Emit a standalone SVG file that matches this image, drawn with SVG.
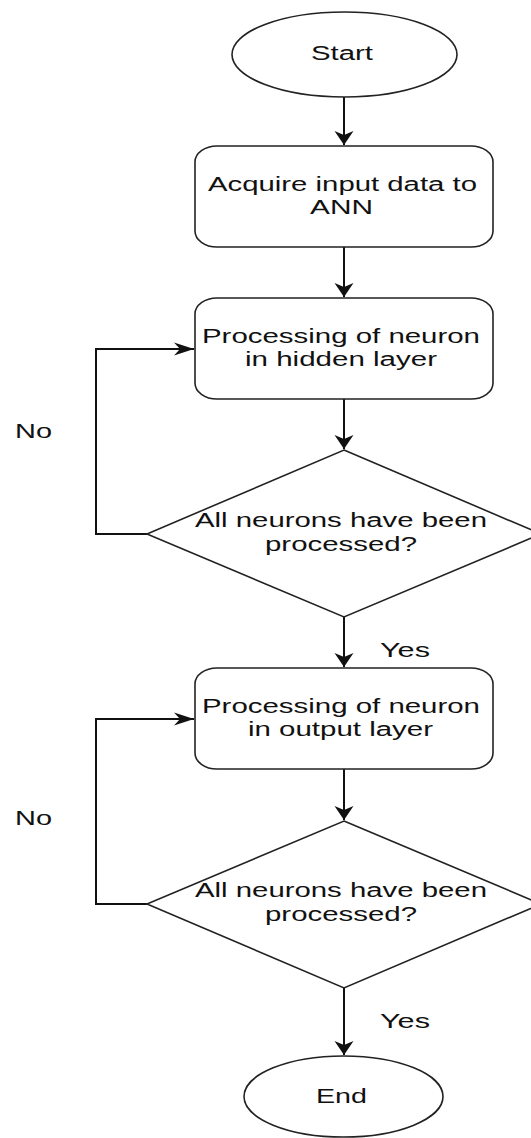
<svg xmlns="http://www.w3.org/2000/svg" width="531" height="1138" viewBox="0 0 531 1138">
<style>
.shape{fill:#ffffff;stroke:#222222;stroke-width:1.6}
.conn{fill:none;stroke:#111111;stroke-width:2}
.t{font-family:"Liberation Sans",Arial,sans-serif;font-size:20px;fill:#111111;text-anchor:middle}
.l{font-family:"Liberation Sans",Arial,sans-serif;font-size:20px;fill:#111111}
</style>
<defs>
<marker id="arrowV" markerUnits="userSpaceOnUse" markerWidth="16" markerHeight="22" refX="14" refY="10" orient="auto" viewBox="0 0 16 22">
<path d="M0,0.5 L14,10 L0,19.5 L4,10 Z" fill="#111111"/>
</marker>
<marker id="arrowH" markerUnits="userSpaceOnUse" markerWidth="22" markerHeight="16" refX="20" refY="7" orient="auto" viewBox="0 0 22 16">
<path d="M0,0.5 L20,7 L0,13.5 L6,7 Z" fill="#111111"/>
</marker>
</defs>
<g id="connectors">
<path class="conn" d="M344,97 L344,145" marker-end="url(#arrowV)"/>
<path class="conn" d="M344,247 L344,297" marker-end="url(#arrowV)"/>
<path class="conn" d="M344,399 L344,449" marker-end="url(#arrowV)"/>
<path class="conn" d="M344,617 L344,667" marker-end="url(#arrowV)"/>
<path class="conn" d="M344,769 L344,820" marker-end="url(#arrowV)"/>
<path class="conn" d="M344,988 L344,1055" marker-end="url(#arrowV)"/>
<path class="conn" d="M147,534 L96,534 L96,349 L194,349" marker-end="url(#arrowH)"/>
<path class="conn" d="M147,904 L96,904 L96,719 L194,719" marker-end="url(#arrowH)"/>
<text class="l" x="15" y="438" textLength="37" lengthAdjust="spacingAndGlyphs">No</text>
<text class="l" x="15" y="825" textLength="37" lengthAdjust="spacingAndGlyphs">No</text>
<text class="l" x="380" y="657" textLength="50" lengthAdjust="spacingAndGlyphs">Yes</text>
<text class="l" x="380" y="1028" textLength="50" lengthAdjust="spacingAndGlyphs">Yes</text>
</g>
<g id="start">
<ellipse class="shape" cx="344.5" cy="54.5" rx="112.5" ry="42.5"/>
<text class="t" x="342" y="60" textLength="62" lengthAdjust="spacingAndGlyphs">Start</text>
</g>
<g id="acquire">
<rect class="shape" x="195" y="146" width="298" height="101" rx="22" ry="16"/>
<text class="t" x="342.5" y="191" textLength="269" lengthAdjust="spacingAndGlyphs">Acquire input data to</text>
<text class="t" x="341.5" y="214" textLength="63" lengthAdjust="spacingAndGlyphs">ANN</text>
</g>
<g id="hidden">
<rect class="shape" x="195" y="298" width="298" height="101" rx="22" ry="16"/>
<text class="t" x="341" y="343" textLength="278" lengthAdjust="spacingAndGlyphs">Processing of neuron</text>
<text class="t" x="341" y="366" textLength="192" lengthAdjust="spacingAndGlyphs">in hidden layer</text>
</g>
<g id="decision1">
<polygon class="shape" points="344,450 541,534 344,617 147,534"/>
<text class="t" x="341" y="527" textLength="292" lengthAdjust="spacingAndGlyphs">All neurons have been</text>
<text class="t" x="341" y="551" textLength="152" lengthAdjust="spacingAndGlyphs">processed?</text>
</g>
<g id="output">
<rect class="shape" x="195" y="668" width="298" height="101" rx="22" ry="16"/>
<text class="t" x="341" y="713" textLength="278" lengthAdjust="spacingAndGlyphs">Processing of neuron</text>
<text class="t" x="340.5" y="736" textLength="185" lengthAdjust="spacingAndGlyphs">in output layer</text>
</g>
<g id="decision2">
<polygon class="shape" points="344,821 541,904 344,988 147,904"/>
<text class="t" x="341" y="897" textLength="292" lengthAdjust="spacingAndGlyphs">All neurons have been</text>
<text class="t" x="341" y="921" textLength="152" lengthAdjust="spacingAndGlyphs">processed?</text>
</g>
<g id="end">
<ellipse class="shape" cx="343.5" cy="1096.5" rx="99.5" ry="40.5"/>
<text class="t" x="341.5" y="1103" textLength="51" lengthAdjust="spacingAndGlyphs">End</text>
</g>
</svg>
